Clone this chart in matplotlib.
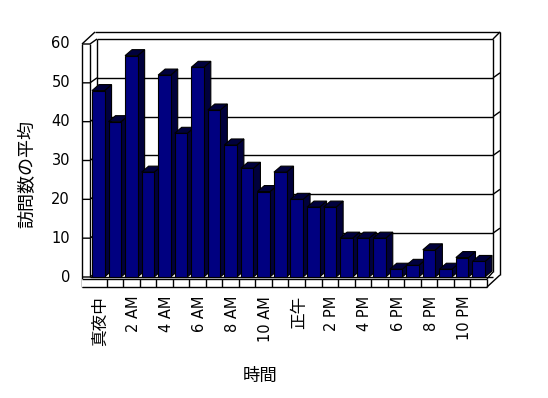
import numpy as np
import matplotlib
matplotlib.use("Agg")
import matplotlib.pyplot as plt
from matplotlib.patches import Polygon

plt.rcParams['font.family'] = ['DejaVu Sans', 'Noto Sans CJK JP']

##---- Data ----##

hours = np.arange(24)
visits = [48, 40, 57, 27, 52, 37, 54, 43, 34, 28, 22, 27,
          20, 18, 18, 10, 10, 10, 2, 3, 7, 2, 5, 4]
tick_pos = np.arange(0, 24, 2)
tick_labels = ['真夜中', '2 AM', '4 AM', '6 AM', '8 AM', '10 AM',
               '正午', '2 PM', '4 PM', '6 PM', '8 PM', '10 PM']
y_ticks = np.arange(0, 61, 10)

##---- Figure ----##

W, H = 548, 398
fig = plt.figure(figsize=(W / 100, H / 100), dpi=100)
fig.patch.set_facecolor('white')

# front plane of the plot area, in pixels
left, right, top, bottom = 90, 487, 44, 277
ax = fig.add_axes([left / W, 1 - bottom / H, (right - left) / W, (bottom - top) / H])
X0, X1 = -0.5, 23.5
Y0, Y1 = 0, 60
ax.set_xlim(X0, X1)
ax.set_ylim(Y0, Y1)
ax.axis('off')

# pixel -> data units
cx = (X1 - X0) / (right - left)
cy = (Y1 - Y0) / (bottom - top)

lw = 1.0
kw = dict(color='black', lw=lw, clip_on=False, solid_capstyle='butt')

def line(xs, ys, z=1):
    ax.plot(xs, ys, zorder=z, **kw)

floor_top = Y0 - 1.8 * cy
floor_bot = Y0 - 10 * cy

##---- Walls ----##

# back wall gridlines + left wall side ticks + right edge ticks
for v in y_ticks:
    yb = v + 5 * cy
    if 0 < v < Y1:
        line([X0 + 7 * cx, X1 + 6 * cx], [yb, yb])
    line([X0 - 8 * cx, X0, X0 + 7 * cx], [v, v, yb])
    if 0 < v < Y1:
        line([X1 + 6 * cx, X1 + 13 * cx], [yb, yb + 5 * cy])

# left wall verticals
line([X0 - 8 * cx, X0 - 8 * cx], [floor_bot, Y1])
line([X0, X0], [Y0, Y1])
line([X0 + 7 * cx, X0 + 7 * cx], [Y0 + 5 * cy, Y1 + 5 * cy])
# top edges
line([X0 - 8 * cx, X0 + 5 * cx], [Y1, Y1 + 12 * cy])
line([X0 + 5 * cx, X1 + 13 * cx], [Y1 + 12 * cy, Y1 + 12 * cy])
line([X0 + 7 * cx, X1 + 6 * cx], [Y1 + 5 * cy, Y1 + 5 * cy])
line([X1 + 6 * cx, X1 + 13 * cx], [Y1 + 5 * cy, Y1 + 12 * cy])
# right verticals
line([X1 + 6 * cx, X1 + 6 * cx], [Y0 + 5 * cy, Y1 + 5 * cy])
line([X1 + 13 * cx, X1 + 13 * cx], [Y0 + 2 * cy, Y1 + 12 * cy])

# floor strip
line([X0 - 8 * cx, X1], [floor_top, floor_top], 50)
line([X0 - 8 * cx, X1], [floor_bot, floor_bot], 50)
line([X0, X1 + 6 * cx], [Y0, Y0])
for k in range(1, 24):
    line([X0 + k, X0 + k], [floor_bot, floor_top], 50)
line([X1, X1], [floor_bot, floor_top], 50)
line([X1, X1 + 13 * cx], [floor_bot, Y0 + 2 * cy], 50)
line([X1, X1 + 6 * cx], [floor_top, Y0 + 5 * cy], 50)
ax.add_patch(Polygon([[X0 - 8 * cx, floor_bot], [X1, floor_bot], [X1, floor_top],
                      [X0 - 8 * cx, floor_top]], closed=True, fc='white', ec='none',
                     zorder=49, clip_on=False))

##---- 3D bars ----##

bw = 0.76
DX, DY = 7 * cx, 6 * cy
front_col = '#000080'
shade_col = '#00003c'
for i, (x, v) in enumerate(zip(hours, visits)):
    z = 10 + i * 0.1
    xl, xr = x - bw / 2, x + bw / 2
    side = Polygon([[xr, Y0], [xr, v], [xr + DX, v + DY], [xr + DX, Y0 + DY]],
                   closed=True, fc=shade_col, ec='black', lw=0.8, zorder=z, clip_on=False)
    topf = Polygon([[xl, v], [xr, v], [xr + DX, v + DY], [xl + DX, v + DY]],
                   closed=True, fc=shade_col, ec='black', lw=0.8, zorder=z, clip_on=False)
    ax.add_patch(side)
    ax.add_patch(topf)
    ax.bar(x, v, width=bw, color=front_col, edgecolor='black', lw=0.8,
           zorder=z + 0.05, clip_on=False)

##---- Labels ----##

for v in y_ticks:
    ax.text(X0 - 20 * cx, v, str(v), ha='right', va='center', fontsize=10.5)

for x, lab in zip(tick_pos, tick_labels):
    size = 12 if lab in ('真夜中', '正午') else 10.5
    ax.text(x + 2 * cx, floor_bot - 9 * cy, lab, rotation=90, ha='center', va='top',
            fontsize=size)

fig.text(27.5 / W, 1 - 173.5 / H, '訪問数の平均', rotation=90, ha='center', va='center',
         fontsize=13)
fig.text(260 / W, 1 - 376 / H, '時間', ha='center', va='center', fontsize=12.5)

fig.savefig('out.png', dpi=100, facecolor='white')
